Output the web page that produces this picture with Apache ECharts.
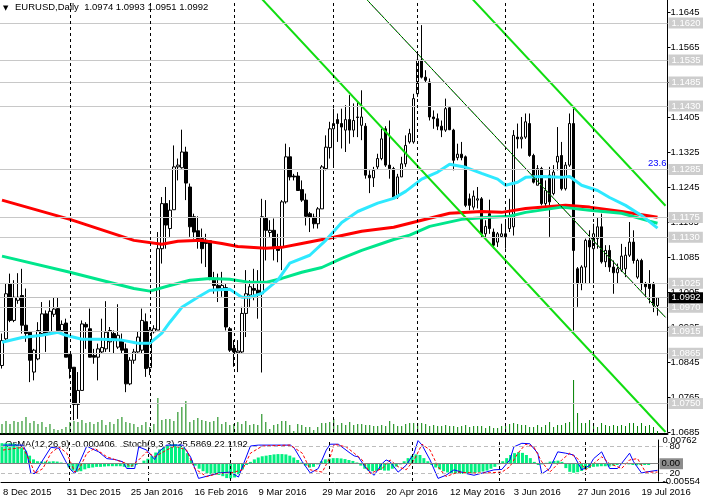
<!DOCTYPE html>
<html>
<head>
<meta charset="utf-8">
<title>EURUSD,Daily</title>
<script src="https://cdn.jsdelivr.net/npm/echarts@6/dist/echarts.min.js"></script>
<style>
html, body { margin: 0; padding: 0; background: #fff; }
#chart { width: 703px; height: 502px; }
</style>
</head>
<body>
<div id="chart"></div>
<script>
// labels under the indicator window, one every 16 bars
var dateLabels = ['8 Dec 2015', '31 Dec 2015', '25 Jan 2016', '16 Feb 2016', '9 Mar 2016', '29 Mar 2016',
  '20 Apr 2016', '12 May 2016', '3 Jun 2016', '27 Jun 2016', '19 Jul 2016'];
var priceTicks = ['1.0685', '1.0765', '1.0845', '1.0925', '1.1005', '1.1085', '1.1165',
  '1.1245', '1.1325', '1.1405', '1.1485', '1.1565', '1.1645'];
var osmaTicks = ['-0.00554', '0.00762'];

// daily bars: [open, close, low, high]
var candles = [
  [1.0837,1.0894,1.0830,1.0910],[1.0898,1.1001,1.0894,1.1024],[1.1024,1.0940,1.0936,1.1047],[1.0940,1.0993,1.0936,1.1032],
  [1.0986,1.0993,1.0978,1.1048],[1.0997,1.0929,1.0910,1.1058],[1.0929,1.0910,1.0891,1.1013],[1.0913,1.0849,1.0799,1.0913],
  [1.0822,1.0872,1.0803,1.0875],[1.0852,1.0917,1.0849,1.0936],[1.0910,1.0955,1.0906,1.0982],[1.0955,1.0910,1.0868,1.0963],
  [1.0913,1.0961,1.0910,1.0986],[1.0954,1.0966,1.0948,1.0992],[1.0967,1.0917,1.0913,1.0992],[1.0917,1.0931,1.0916,1.0940],
  [1.0934,1.0856,1.0856,1.0944],[1.0862,1.0830,1.0807,1.0864],[1.0833,1.0748,1.0712,1.0833],[1.0748,1.0780,1.0715,1.0822],
  [1.0780,1.0932,1.0780,1.0940],[1.0931,1.0925,1.0875,1.0936],[1.0921,1.0856,1.0856,1.0967],[1.0860,1.0856,1.0841,1.0875],
  [1.0856,1.0875,1.0803,1.0887],[1.0868,1.0878,1.0864,1.0944],[1.0875,1.0913,1.0868,1.0984],[1.0891,1.0917,1.0868,1.0925],
  [1.0910,1.0894,1.0864,1.0917],[1.0879,1.0906,1.0875,1.0977],[1.0896,1.0872,1.0864,1.0910],[1.0875,1.0795,1.0776,1.0887],
  [1.0795,1.0849,1.0792,1.0856],[1.0849,1.0868,1.0841,1.0875],[1.0868,1.0902,1.0866,1.0914],[1.0872,1.0940,1.0864,1.0967],
  [1.0937,1.0830,1.0811,1.0956],[1.0832,1.0918,1.0815,1.0925],[1.0914,1.0921,1.0910,1.0929],[1.0918,1.1104,1.0918,1.1142],
  [1.1104,1.1207,1.1070,1.1222],[1.1207,1.1158,1.1104,1.1245],[1.1150,1.1192,1.1131,1.1215],[1.1193,1.1291,1.1193,1.1340],
  [1.1291,1.1295,1.1260,1.1310],[1.1289,1.1325,1.1287,1.1376],[1.1325,1.1254,1.1215,1.1337],[1.1245,1.1154,1.1131,1.1253],
  [1.1177,1.1142,1.1127,1.1184],[1.1145,1.1127,1.1104,1.1178],[1.1127,1.1104,1.1070,1.1150],[1.1123,1.1116,1.1062,1.1138],
  [1.1122,1.1039,1.1032,1.1123],[1.1032,1.1020,1.1001,1.1051],[1.1020,1.1013,1.0982,1.1047],[1.1013,1.1020,1.0994,1.1051],
  [1.1015,1.0925,1.0917,1.1023],[1.0921,1.0872,1.0868,1.0925],[1.0876,1.0868,1.0834,1.0895],[1.0866,1.0870,1.0822,1.0895],
  [1.0868,1.0956,1.0864,1.0971],[1.0956,1.1001,1.0902,1.1055],[1.0998,1.1017,1.0971,1.1032],[1.1013,1.1009,1.0986,1.1058],
  [1.1009,1.0998,1.0944,1.1055],[1.1001,1.1177,1.0821,1.1218],[1.1173,1.1146,1.1077,1.1215],[1.1141,1.1146,1.1131,1.1169],
  [1.1146,1.1108,1.1077,1.1173],[1.1108,1.1100,1.1073,1.1138],[1.1108,1.1211,1.1055,1.1215],[1.1211,1.1314,1.1207,1.1344],
  [1.1314,1.1268,1.1260,1.1336],[1.1270,1.1268,1.1260,1.1275],[1.1270,1.1237,1.1237,1.1279],[1.1239,1.1215,1.1211,1.1260],
  [1.1215,1.1178,1.1157,1.1230],[1.1184,1.1176,1.1142,1.1188],[1.1176,1.1161,1.1150,1.1184],[1.1161,1.1195,1.1150,1.1199],
  [1.1195,1.1291,1.1195,1.1295],[1.1287,1.1336,1.1283,1.1363],[1.1335,1.1378,1.1310,1.1394],[1.1378,1.1390,1.1291,1.1424],
  [1.1399,1.1390,1.1348,1.1413],[1.1390,1.1382,1.1333,1.1424],[1.1375,1.1399,1.1325,1.1432],[1.1399,1.1375,1.1344,1.1455],
  [1.1375,1.1397,1.1359,1.1436],[1.1405,1.1404,1.1359,1.1439],[1.1386,1.1405,1.1352,1.1466],[1.1384,1.1272,1.1264,1.1391],
  [1.1272,1.1266,1.1231,1.1283],[1.1266,1.1283,1.1245,1.1291],[1.1291,1.1310,1.1285,1.1321],[1.1310,1.1355,1.1306,1.1378],
  [1.1378,1.1295,1.1291,1.1384],[1.1295,1.1287,1.1264,1.1397],[1.1287,1.1222,1.1218,1.1291],[1.1222,1.1268,1.1218,1.1275],
  [1.1268,1.1298,1.1268,1.1314],[1.1298,1.1340,1.1291,1.1363],[1.1348,1.1367,1.1344,1.1378],[1.1348,1.1447,1.1344,1.1458],
  [1.1458,1.1535,1.1451,1.1550],[1.1535,1.1496,1.1493,1.1615],[1.1496,1.1489,1.1485,1.1512],[1.1485,1.1405,1.1397,1.1493],
  [1.1405,1.1401,1.1378,1.1420],[1.1401,1.1384,1.1375,1.1413],[1.1384,1.1375,1.1359,1.1397],[1.1375,1.1424,1.1371,1.1447],
  [1.1426,1.1376,1.1375,1.1428],[1.1375,1.1306,1.1283,1.1378],[1.1312,1.1320,1.1306,1.1344],[1.1320,1.1312,1.1306,1.1348],
  [1.1314,1.1203,1.1199,1.1317],[1.1218,1.1203,1.1192,1.1230],[1.1199,1.1224,1.1193,1.1237],[1.1215,1.1218,1.1196,1.1245],
  [1.1218,1.1138,1.1131,1.1222],[1.1138,1.1155,1.1131,1.1169],[1.1184,1.1150,1.1138,1.1216],[1.1142,1.1112,1.1104,1.1150],
  [1.1119,1.1138,1.1108,1.1142],[1.1132,1.1138,1.1131,1.1161],[1.1138,1.1131,1.1104,1.1169],[1.1150,1.1176,1.1142,1.1218],
  [1.1154,1.1363,1.1134,1.1375],[1.1359,1.1355,1.1333,1.1390],[1.1355,1.1359,1.1333,1.1405],[1.1359,1.1394,1.1355,1.1413],
  [1.1390,1.1317,1.1314,1.1413],[1.1317,1.1256,1.1253,1.1321],[1.1249,1.1287,1.1249,1.1295],[1.1287,1.1207,1.1203,1.1291],
  [1.1207,1.1237,1.1199,1.1260],[1.1272,1.1211,1.1131,1.1291],[1.1230,1.1279,1.1226,1.1295],[1.1302,1.1315,1.1283,1.1382],
  [1.1317,1.1241,1.1237,1.1348],[1.1241,1.1295,1.1237,1.1302],[1.1295,1.1390,1.1291,1.1413],[1.1390,1.1100,1.0917,1.1424],
  [1.1058,1.1024,1.0971,1.1062],[1.1024,1.1062,1.1009,1.1066],[1.1062,1.1123,1.1024,1.1127],[1.1123,1.1108,1.1024,1.1146],
  [1.1104,1.1138,1.1024,1.1161],[1.1127,1.1154,1.1104,1.1176],[1.1154,1.1074,1.1070,1.1184],[1.1074,1.1100,1.1062,1.1112],
  [1.1100,1.1062,1.1051,1.1112],[1.1062,1.1049,1.1001,1.1077],[1.1049,1.1058,1.1024,1.1070],[1.1055,1.1087,1.1051,1.1115],
  [1.1058,1.1089,1.1039,1.1108],[1.1089,1.1119,1.1085,1.1165],[1.1119,1.1077,1.1070,1.1146],[1.1039,1.1077,1.1035,1.1081],
  [1.1077,1.1024,1.1009,1.1081],[1.1024,1.1017,1.0994,1.1028],[1.1024,1.1013,1.0979,1.1055],[1.1022,1.0975,1.0959,1.1028],
  [1.0974,1.0992,1.0951,1.0993]
];

// tick volume (thousands)
var volumes = [
  10,13,10,13,12,13,17,11,13,10,12,7,10,5,4,5,7,12,13,12,14,11,12,10,12,14,9,12,10,15,17,12,11,10,
  7,9,12,7,10,36,14,15,15,13,22,27,33,12,14,16,14,13,12,13,17,10,12,9,10,12,10,13,9,10,9,20,
  12,5,9,10,13,13,9,3,10,9,7,7,4,7,11,11,12,15,9,11,9,12,9,10,10,9,9,8,8,9,8,13,10,
  8,8,10,11,11,11,11,10,8,9,8,8,9,8,8,7,8,9,7,8,8,8,6,8,6,6,8,8,10,11,10,9,9,
  7,7,9,7,9,12,7,9,9,11,12,54,21,11,11,14,11,7,11,9,8,9,8,9,8,11,11,8,11,8,9,7,3
];

// moving averages: [bar, price]
var maRed = [[0,1.1215],[17,1.1171],[33,1.1123],[40,1.1114],[44,1.1121],[50,1.1123],[55,1.1116],[59,1.1109],
  [66,1.1105],[70,1.1107],[75,1.1116],[83,1.1130],[90,1.1144],[98,1.1153],[105,1.1169],[112,1.1185],
  [120,1.1189],[125,1.1187],[131,1.1196],[141,1.1203],[147,1.1199],[155,1.1189],[164,1.1176]];
var maGreen = [[0,1.1087],[17,1.1050],[33,1.1013],[37,1.1007],[42,1.1020],[47,1.1032],[52,1.1036],[57,1.1034],
  [62,1.1027],[66,1.1027],[70,1.1036],[75,1.1050],[80,1.1061],[85,1.1082],[90,1.1100],[98,1.1125],
  [102,1.1135],[107,1.1155],[115,1.1171],[122,1.1176],[127,1.1178],[131,1.1187],[140,1.1199],[147,1.1192],
  [155,1.1185],[162,1.1167],[164,1.1162]];
var maCyan = [[0,1.0890],[5,1.0901],[10,1.0906],[14,1.0913],[16,1.0906],[20,1.0897],[25,1.0897],[30,1.0895],
  [34,1.0888],[37,1.0888],[40,1.0911],[42,1.0936],[45,1.0970],[49,1.0993],[52,1.1009],[57,1.1011],
  [60,1.0993],[62,1.0993],[65,1.1002],[69,1.1032],[72,1.1071],[77,1.1089],[81,1.1123],[85,1.1164],
  [89,1.1189],[94,1.1208],[98,1.1219],[101,1.1235],[105,1.1263],[109,1.1279],[112,1.1297],[116,1.1290],
  [120,1.1276],[124,1.1263],[126,1.1249],[129,1.1256],[131,1.1267],[135,1.1269],[140,1.1267],[142,1.1269],
  [145,1.1249],[149,1.1237],[152,1.1221],[156,1.1203],[160,1.1180],[164,1.1151]];

// trend channel: [bar, price] end points
var channelLow = [[60,1.1724],[166,1.0685]];
var channelHigh = [[115,1.1701],[166,1.1202]];
var channelMid = [[88,1.1705],[166,1.0947]];

// horizontal levels and last bid
var levels = [1.1620,1.1535,1.1485,1.1430,1.1285,1.1175,1.1130,1.1025,1.0970,1.0915,1.0865,1.0750];
var lastBid = 1.0992;
var monthStarts = [17,37,58,83,104,126,148];

var osma = [
  0.0066,0.0066,0.0066,0.0065,0.0062,0.0052,0.0042,0.0026,0.0014,0.0008,0.0007,0.0007,0.0007,0.0008,0.0007,0.0004,0.0000,
  -0.0012,-0.0022,-0.0026,-0.0024,-0.0018,-0.0014,-0.0012,-0.0010,-0.0010,-0.0009,-0.0008,-0.0008,-0.0008,-0.0008,-0.0010,-0.0012,-0.0010,
  -0.0004,0.0002,0.0010,0.0016,0.0024,0.0036,0.0046,0.0052,0.0058,0.0062,0.0063,0.0060,0.0052,0.0034,
  0.0012,-0.0006,-0.0016,-0.0024,-0.0030,-0.0034,-0.0034,-0.0036,-0.0040,-0.0046,-0.0047,-0.0044,-0.0034,-0.0018,-0.0004,0.0006,
  0.0014,0.0020,0.0024,0.0026,0.0028,0.0030,0.0031,0.0031,0.0030,0.0026,0.0020,0.0012,0.0004,
  -0.0006,-0.0012,-0.0010,-0.0002,0.0008,0.0014,0.0016,0.0018,0.0018,0.0017,0.0015,0.0012,0.0009,0.0004,
  -0.0006,-0.0016,-0.0022,-0.0024,-0.0023,-0.0020,-0.0022,-0.0022,-0.0016,-0.0009,-0.0002,
  0.0008,0.0018,0.0026,0.0030,0.0028,0.0018,0.0008,
  -0.0004,-0.0012,-0.0018,-0.0024,-0.0028,-0.0030,-0.0032,-0.0033,-0.0033,-0.0031,-0.0030,-0.0029,-0.0027,-0.0025,-0.0022,-0.0016,-0.0010,-0.0002,
  0.0008,0.0018,0.0028,0.0034,0.0037,0.0035,0.0028,0.0018,0.0006,
  -0.0004,-0.0002,0.0003,0.0007,0.0009,0.0010,0.0006,
  -0.0014,-0.0026,-0.0029,-0.0027,-0.0023,-0.0018,-0.0014,-0.0010,-0.0009,-0.0008,-0.0008,-0.0009,-0.0006,-0.0004,-0.0001,0.0001,-0.0002,-0.0004,-0.0005,-0.0004,-0.0004,-0.0004
];
var osmaRange = [-0.00554, 0.00762];

var stochMain = [[0,82],[5,82],[6,64],[7,19],[8,19],[10,49],[12,77],[14,75],[16,41],[17,27],[18,19],[21,80],
  [22,75],[24,67],[26,52],[28,50],[30,45],[31,30],[33,30],[34,78],[36,71],[38,50],[39,67],[41,82],[45,82],
  [47,56],[49,8],[52,15],[54,20],[57,22],[59,11],[62,80],[64,82],[72,82],[73,75],[75,45],[77,20],[79,30],
  [81,71],[82,84],[84,84],[87,64],[88,58],[89,56],[91,30],[93,15],[95,41],[96,49],[97,45],[99,22],[101,37],
  [103,64],[104,92],[105,82],[107,49],[109,8],[111,15],[113,27],[116,19],[118,15],[121,22],[123,27],[125,28],
  [127,49],[128,78],[130,86],[132,85],[134,64],[135,18],[137,30],[139,67],[141,64],[143,60],[145,27],[147,37],
  [148,52],[150,67],[152,30],[154,30],[157,64],[158,45],[160,20],[161,22],[164,26]];
var stochSignal = [[0,71],[5,77],[7,41],[8,19],[10,30],[12,64],[14,78],[16,64],[18,22],[19,27],[21,64],[23,75],
  [26,56],[28,50],[31,41],[32,34],[34,49],[36,67],[38,56],[41,71],[43,80],[46,71],[48,30],[51,12],[54,19],
  [57,20],[60,27],[62,64],[65,80],[72,82],[75,64],[77,27],[80,22],[82,56],[83,84],[86,78],[88,64],[90,49],
  [92,19],[95,30],[97,49],[99,34],[101,27],[103,49],[105,84],[107,71],[109,34],[111,12],[114,22],[118,20],
  [121,20],[125,22],[127,34],[129,64],[131,84],[133,78],[135,45],[137,22],[140,49],[142,64],[144,52],[146,27],
  [148,41],[150,56],[152,41],[155,30],[157,49],[159,52],[161,22],[164,22]];
var stochLevels = [80, 20];

var FONT = '"Liberation Sans", Arial, sans-serif';
var FS = 9.5;
var slots = [];
for (var i = 0; i < candles.length + 2; i++) slots.push(String(i));

var priceMin = 1.0685, priceMax = 1.16724;
var last = candles[candles.length - 1];
var noSplit = { show: false };

function catAxis(grid, extra) {
  var a = { gridIndex: grid, type: 'category', data: slots, boundaryGap: true, show: false, splitLine: noSplit };
  for (var k in extra) a[k] = extra[k];
  return a;
}

var monthLines = monthStarts.map(function (b) {
  return { xAxis: b, lineStyle: { color: '#000', type: [3, 3], width: 1 }, label: { show: false } };
});
var levelLines = levels.map(function (p) {
  return {
    yAxis: p,
    lineStyle: { color: '#c8c8c8', type: 'solid', width: 1 },
    label: { show: true, position: 'end', distance: 1, formatter: p.toFixed(4),
      backgroundColor: '#cdcdcd', color: '#fff', fontFamily: FONT, fontSize: FS, padding: [1, 3, 0, 3] }
  };
});
levelLines.push({
  yAxis: lastBid,
  lineStyle: { color: '#c0c0c0', type: 'solid', width: 1 },
  label: { show: true, position: 'end', distance: 1, formatter: lastBid.toFixed(4),
    backgroundColor: '#000', color: '#fff', fontFamily: FONT, fontSize: FS, padding: [1, 4, 0, 3] }
});

function lineSeries(data, color, width, extra) {
  var s = { type: 'line', xAxisIndex: 0, yAxisIndex: 0, data: data, showSymbol: false, symbol: 'none',
    silent: true, lineStyle: { color: color, width: width }, z: 3 };
  for (var k in extra) s[k] = extra[k];
  return s;
}

var chart = echarts.init(document.getElementById('chart'));
chart.setOption({
  animation: false,
  backgroundColor: '#fff',
  textStyle: { fontFamily: FONT },
  grid: [
    { left: -0.5, width: 668, top: 0, height: 432 },
    { left: -0.5, width: 668, top: 372, height: 62 },
    { left: -0.5, width: 668, top: 440, height: 41 },
    { left: -0.5, width: 668, top: 437, height: 45 }
  ],
  xAxis: [
    catAxis(0, {}),
    catAxis(1, { show: true, axisLine: { lineStyle: { color: '#000', width: 2 } }, axisTick: { show: false }, axisLabel: { show: false } }),
    catAxis(2, {}),
    catAxis(3, {
      show: true,
      axisLine: { lineStyle: { color: '#000', width: 1 } },
      axisTick: { show: false },
      axisLabel: {
        interval: function (i) { return i % 16 === 0; },
        formatter: function (v, i) { return dateLabels[i / 16] || ''; },
        align: 'left', color: '#000', fontFamily: FONT, fontSize: FS, margin: 5
      }
    })
  ],
  yAxis: [
    { gridIndex: 0, position: 'left', type: 'value', min: priceMin, max: priceMax, show: false, splitLine: noSplit },
    { gridIndex: 0, position: 'right', type: 'value', min: 0, max: (priceMax - priceMin) / 0.008, interval: 1,
      axisLine: { show: true, lineStyle: { color: '#000' } },
      axisTick: { show: true, length: 3, lineStyle: { color: '#000' } },
      axisLabel: { formatter: function (v) { return priceTicks[v] || ''; }, showMaxLabel: false,
        color: '#000', fontFamily: FONT, fontSize: FS, margin: 3 },
      splitLine: noSplit },
    { gridIndex: 1, position: 'left', type: 'value', min: 0, max: 62, show: false, splitLine: noSplit },
    { gridIndex: 2, position: 'right', type: 'value', min: osmaRange[0], max: osmaRange[1],
      axisLine: { show: true, lineStyle: { color: '#000' } },
      axisTick: { show: false },
      axisLabel: { showMinLabel: true, showMaxLabel: true, color: '#000', fontFamily: FONT, fontSize: FS, margin: 4,
        formatter: function (v) {
          if (Math.abs(v - osmaRange[0]) < 1e-9) return osmaTicks[0];
          if (Math.abs(v - osmaRange[1]) < 1e-9) return osmaTicks[1];
          return '';
        } },
      splitLine: noSplit },
    { gridIndex: 3, position: 'left', type: 'value', min: 0, max: 100, show: false, splitLine: noSplit }
  ],
  series: [
    {
      type: 'candlestick', xAxisIndex: 0, yAxisIndex: 0, data: candles, barWidth: 3, silent: true, z: 2,
      itemStyle: { color: '#fff', color0: '#000', borderColor: '#000', borderColor0: '#000', borderWidth: 1 },
      markLine: { silent: true, precision: 4, symbol: ['none', 'none'], animation: false, data: levelLines.concat(monthLines) }
    },
    lineSeries(maRed, '#ff0000', 3),
    lineSeries(maGreen, '#00e68c', 3),
    lineSeries(maCyan, '#2ee9ff', 3),
    lineSeries(channelLow, '#10dd10', 2),
    lineSeries(channelHigh, '#10dd10', 2),
    lineSeries(channelMid, '#000', 1),
    lineSeries(channelMid, '#10dd10', 1, { lineStyle: { color: '#10dd10', width: 1, type: [2, 2] } }),
    {
      type: 'bar', xAxisIndex: 1, yAxisIndex: 2, data: volumes, barWidth: 1, silent: true,
      itemStyle: { color: '#008000' }
    },
    {
      type: 'bar', xAxisIndex: 2, yAxisIndex: 3, data: osma, barWidth: 3, silent: true,
      itemStyle: { color: '#00f080' },
      markLine: {
        silent: true, precision: 5, symbol: ['none', 'none'], animation: false,
        data: [{
          yAxis: 0, lineStyle: { color: '#808080', type: 'solid', width: 1 },
          label: { show: true, position: 'end', distance: 1, formatter: '0.00', backgroundColor: '#8c8c8c',
            color: '#000', fontFamily: FONT, fontSize: FS, padding: [1, 3, 0, 2] }
        }].concat(monthLines)
      }
    },
    {
      type: 'line', xAxisIndex: 3, yAxisIndex: 4, data: stochMain, showSymbol: false, symbol: 'none', silent: true,
      lineStyle: { color: '#0000ff', width: 1 }, z: 4,
      markLine: {
        silent: true, symbol: ['none', 'none'], animation: false,
        data: stochLevels.map(function (v) {
          return { yAxis: v, lineStyle: { color: '#bdbdbd', type: [4, 3], width: 1 },
            label: { show: true, position: 'end', distance: 2, formatter: String(v), color: '#000',
              fontFamily: FONT, fontSize: FS } };
        })
      }
    },
    {
      type: 'line', xAxisIndex: 3, yAxisIndex: 4, data: stochSignal, showSymbol: false, symbol: 'none', silent: true,
      lineStyle: { color: '#ff0000', width: 1, type: [3, 2] }, z: 4
    }
  ],
  graphic: [
    { type: 'text', left: 3, top: 5, style: { text: '\u25BC', fontSize: 7, fill: '#000', fontFamily: 'DejaVu Sans' } },
    { type: 'text', left: 15, top: 2,
      style: { text: 'EURUSD,Daily  ' + [last[0], last[3], last[2], last[1]].map(function (v) { return v.toFixed(4); }).join(' '),
        fontSize: FS, fill: '#000', fontFamily: FONT } },
    { type: 'text', left: 5, top: 439,
      style: { text: 'OsMA(12,26,9) -0.000406   Stoch(9,3,3) 25.5869 22.1192', fontSize: FS, fill: '#000', fontFamily: FONT } },
    { type: 'text', left: 648, top: 158, style: { text: '23.6', fontSize: FS, fill: '#0000ff', fontFamily: FONT } }
  ]
});
</script>
</body>
</html>
